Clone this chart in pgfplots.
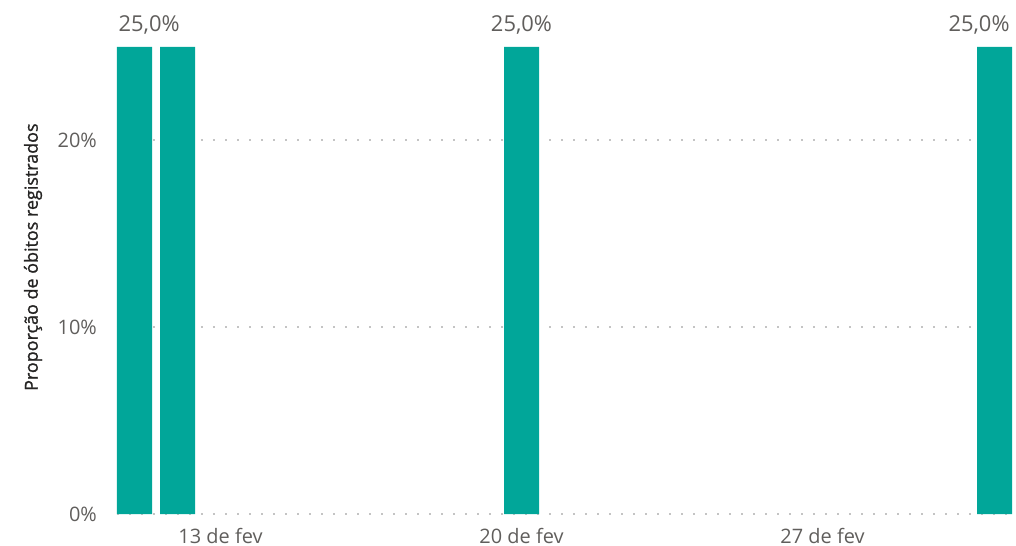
\documentclass[border=0pt]{standalone}
\usepackage{pgfplots}
\pgfplotsset{compat=1.18}
\usepackage{fontspec}
\setmainfont{Open Sans}
\newfontfamily\ylabfont{Open Sans}[FakeBold=1.2]
\definecolor{barteal}{HTML}{01A699}
\definecolor{ticktxt}{HTML}{605E5C}
\definecolor{labtxt}{HTML}{252423}
\definecolor{gridc}{HTML}{C4C4C4}
\begin{document}
\begin{tikzpicture}
\useasboundingbox (-117bp,-32bp) rectangle (899bp,514bp);
\begin{axis}[
  at={(0,0)}, anchor=south west,
  scale only axis, width=895bp, height=467bp,
  xmin=10.593, xmax=31.407, ymin=0, ymax=25,
  clip=false,
  axis line style={draw=none},
  major tick length=0pt,
  ytick={0,10,20}, yticklabels={0\%,10\%,20\%},
  xtick={13,20,27}, xticklabels={13 de fev,20 de fev,27 de fev},
  ymajorgrids,
  grid style={gridc, line width=2bp, dash pattern=on 2bp off 10bp},
  tick label style={text=ticktxt, font=\fontsize{20}{23}\selectfont},
  yticklabel style={anchor=east, inner sep=0pt, xshift=-20bp},
  xticklabel style={anchor=base, inner sep=0pt, yshift=-29bp},
  every axis y label/.style={at={(axis description cs:0,0.55)}, xshift=-84bp, rotate=90, anchor=center, text=labtxt, font=\ylabfont\fontsize{18}{21}\selectfont},
  ylabel={Proporção de óbitos registrados},
]
\addplot[ybar, bar width=35bp, bar shift=0pt, fill=barteal, draw=none]
  coordinates {(11,25) (12,25) (20,25) (31,25)};
\addplot[only marks, mark=none, draw=none,
  nodes near coords={25,0\%},
  every node near coord/.style={anchor=base, inner sep=0pt, yshift=15bp, text=ticktxt, font=\fontsize{22}{25}\selectfont}]
  coordinates {(11.34,25) (20,25) (30.64,25)};
\end{axis}
\end{tikzpicture}
\end{document}
